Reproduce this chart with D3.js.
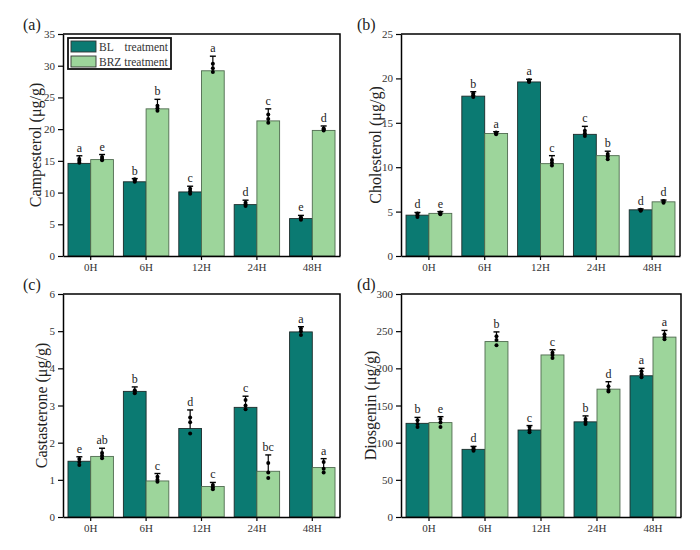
<!DOCTYPE html>
<html><head><meta charset="utf-8">
<script src="https://cdn.jsdelivr.net/npm/d3@7"></script>
<style>body{margin:0;background:#fff}svg text{font-family:"Liberation Serif","Times New Roman",serif}</style>
</head><body><svg id="c" width="700" height="550"></svg>
<script>
const categories = ["0H","6H","12H","24H","48H"];
const seriesNames = ["BL","BRZ"];
const seriesLabels = ["BL", "BRZ treatment"];
const colors = ["#0b7a72", "#9dd59b"];

// (a) Campesterol
const campBL = [14.6, 11.7, 10.1, 8.1, 5.9];
const campBRZ = [15.2, 23.2, 29.2, 21.3, 19.8];
const campErrBL = [1.2, 0.5, 0.9, 0.7, 0.5];
const campErrBRZ = [0.8, 1.5, 2.3, 1.9, 0.7];
const campLetBL = ["a","b","c","d","e"];
const campLetBRZ = ["e","b","a","c","d"];
const campRepBL = [[14.7,15.0,15.3],[11.7,11.9,12.1],[9.8,10.2,10.6],[7.9,8.1,8.4],[5.7,5.9,6.1]];
const campRepBRZ = [[15.1,15.3,15.6],[22.9,23.3,23.7],[29.0,29.6,30.3],[21.0,21.6,22.3],[19.8,20.0,20.1]];
const campTicks = [0,5,10,15,20,25,30,35];

// (b) Cholesterol
const cholBL = [4.6, 18.0, 19.6, 13.7, 5.2];
const cholBRZ = [4.8, 13.8, 10.4, 11.3, 6.1];
const cholErrBL = [0.3, 0.5, 0.3, 0.9, 0.1];
const cholErrBRZ = [0.2, 0.2, 0.9, 0.5, 0.2];
const cholLetBL = ["d","b","a","c","d"];
const cholLetBRZ = ["e","a","c","b","d"];
const cholRepBL = [[4.4,4.6,4.8],[17.9,18.1,18.3],[19.6,19.7,19.8],[13.5,13.8,14.1],[5.1,5.15,5.2]];
const cholRepBRZ = [[4.7,4.8,4.9],[13.7,13.8,13.9],[10.2,10.5,10.8],[10.9,11.2,11.5],[6.0,6.1,6.2]];
const cholTicks = [0,5,10,15,20,25];

// (c) Castasterone
const castBL = [1.5, 3.38, 2.38, 2.95, 4.98];
const castBRZ = [1.63, 0.97, 0.82, 1.23, 1.33];
const castErrBL = [0.12, 0.12, 0.5, 0.3, 0.14];
const castErrBRZ = [0.22, 0.2, 0.11, 0.44, 0.24];
const castLetBL = ["e","b","d","c","a"];
const castLetBRZ = ["ab","c","c","bc","a"];
const castRepBL = [[1.4,1.48,1.56],[3.33,3.37,3.41],[2.25,2.55,2.68],[2.9,3.0,3.15],[4.9,5.0,5.07]];
const castRepBRZ = [[1.58,1.65,1.72],[0.95,1.0,1.08],[0.75,0.8,0.86],[1.05,1.2,1.45],[1.2,1.3,1.48]];
const castTicks = [0,1,2,3,4,5,6];

// (d) Diosgenin
const diosBL = [126, 91, 117, 128, 190];
const diosBRZ = [127, 236, 218, 172, 242];
const diosErrBL = [8, 4, 6, 8, 10];
const diosErrBRZ = [8, 13, 7, 10, 9];
const diosLetBL = ["b","d","c","b","a"];
const diosLetBRZ = ["e","b","c","d","a"];
const diosRepBL = [[121,125,130],[89,91,93],[114,117,121],[125,128,132],[188,192,196]];
const diosRepBRZ = [[121,127,132],[231,238,243],[214,218,221],[169,171,176],[239,242,246]];
const diosTicks = [0,50,100,150,200,250,300];

const svg = d3.select("#c");
const serif = '"Liberation Serif","Times New Roman",serif';

function panel(o) {
  const g = svg.append("g");
  const x = d3.scaleBand().domain(categories).range([o.left, o.right]).paddingInner(0.18).paddingOuter(0.09);
  const xs = d3.scaleBand().domain(seriesNames).range([0, x.bandwidth()]);
  const y = d3.scaleLinear().domain([0, o.ticks[o.ticks.length-1]]).range([o.bottom, o.top]);
  const sets = [
    {vals:o.bl, err:o.errBL, let:o.letBL, rep:o.repBL, s:"BL", c:colors[0], st:"#1c2b2a"},
    {vals:o.brz, err:o.errBRZ, let:o.letBRZ, rep:o.repBRZ, s:"BRZ", c:colors[1], st:"#4f6b4f"}
  ];
  sets.forEach(S => {
    categories.forEach((cat, i) => {
      const x0 = x(cat) + xs(S.s), w = xs.bandwidth(), cx = x0 + w/2;
      g.append("rect").attr("x", x0).attr("y", y(S.vals[i])).attr("width", w)
        .attr("height", y(0) - y(S.vals[i])).attr("fill", S.c).attr("stroke", S.st).attr("stroke-width", 0.9);
      const top = y(S.vals[i] + S.err[i]);
      g.append("line").attr("x1", cx).attr("x2", cx).attr("y1", y(S.vals[i])).attr("y2", top)
        .attr("stroke", "#000").attr("stroke-width", 1.2);
      g.append("line").attr("x1", cx-3).attr("x2", cx+3).attr("y1", top).attr("y2", top)
        .attr("stroke", "#000").attr("stroke-width", 1.4);
      S.rep[i].forEach(v => {
        g.append("circle").attr("cx", cx).attr("cy", y(v)).attr("r", 2).attr("fill", "#000");
      });
      g.append("text").attr("x", cx).attr("y", top - 4).attr("text-anchor", "middle")
        .attr("font-size", 12).attr("fill", "#222").text(S.let[i]);
    });
  });
  // axes
  const ya = g.append("g").attr("transform", `translate(${o.left},0)`)
    .call(d3.axisLeft(y).tickValues(o.ticks).tickFormat(d3.format("d")).tickSize(5).tickSizeOuter(0).tickPadding(3));
  ya.attr("font-family", serif);
  ya.select(".domain").attr("stroke-width", 1.5);
  ya.selectAll(".tick line").attr("stroke-width", 1.2);
  ya.selectAll("text").attr("font-size", 11).attr("fill", "#333");
  const xa = g.append("g").attr("transform", `translate(0,${o.bottom})`)
    .call(d3.axisBottom(x).tickSize(4).tickSizeOuter(0).tickPadding(3));
  xa.attr("font-family", serif);
  xa.select(".domain").attr("stroke-width", 1.5);
  xa.selectAll(".tick line").attr("stroke-width", 1.2);
  xa.selectAll("text").attr("font-size", 11).attr("fill", "#333");
  // frame
  g.append("path").attr("d", `M${o.left},${o.top}H${o.right}V${o.bottom}`).attr("fill", "none")
    .attr("stroke", "#000").attr("stroke-width", 1.5);
  // titles
  g.append("text").attr("transform", `translate(${o.tx},${(o.top+o.bottom)/2}) rotate(-90)`)
    .attr("text-anchor", "middle").attr("dominant-baseline", "central").attr("font-size", 16).attr("fill", "#222").text(o.title);
  g.append("text").attr("x", o.lx).attr("y", o.top - 4).attr("font-size", 16).attr("fill", "#222").text(o.label);
}

panel({left:63, right:340, top:34, bottom:256, ticks:campTicks, bl:campBL, brz:campBRZ, errBL:campErrBL, errBRZ:campErrBRZ,
  letBL:campLetBL, letBRZ:campLetBRZ, repBL:campRepBL, repBRZ:campRepBRZ, title:"Campesterol (μg/g)", tx:35, label:"(a)", lx:23});
panel({left:401, right:680, top:34, bottom:256, ticks:cholTicks, bl:cholBL, brz:cholBRZ, errBL:cholErrBL, errBRZ:cholErrBRZ,
  letBL:cholLetBL, letBRZ:cholLetBRZ, repBL:cholRepBL, repBRZ:cholRepBRZ, title:"Cholesterol (μg/g)", tx:375, label:"(b)", lx:357});
panel({left:63, right:340, top:294, bottom:517, ticks:castTicks, bl:castBL, brz:castBRZ, errBL:castErrBL, errBRZ:castErrBRZ,
  letBL:castLetBL, letBRZ:castLetBRZ, repBL:castRepBL, repBRZ:castRepBRZ, title:"Castasterone (μg/g)", tx:41, label:"(c)", lx:23});
panel({left:401, right:681, top:294, bottom:517, ticks:diosTicks, bl:diosBL, brz:diosBRZ, errBL:diosErrBL, errBRZ:diosErrBRZ,
  letBL:diosLetBL, letBRZ:diosLetBRZ, repBL:diosRepBL, repBRZ:diosRepBRZ, title:"Diosgenin (μg/g)", tx:370, label:"(d)", lx:357});

// legend
const lg = svg.append("g");
lg.append("rect").attr("x", 68).attr("y", 38).attr("width", 103).attr("height", 31)
  .attr("fill", "#fff").attr("stroke", "#111").attr("stroke-width", 1.8);
seriesNames.forEach((s, i) => {
  const yy = 41 + i * 15;
  lg.append("rect").attr("x", 71).attr("y", yy).attr("width", 25).attr("height", 11)
    .attr("fill", colors[i]).attr("stroke", "#333").attr("stroke-width", 0.9);
  lg.append("text").attr("x", 99).attr("y", yy + 9.5).attr("font-size", 11.5).attr("fill", "#333").text(seriesLabels[i]);
});
lg.append("text").attr("x", 168).attr("y", 41 + 9.5).attr("text-anchor", "end").attr("font-size", 11.5).attr("fill", "#333").text("treatment");
</script></body></html>
